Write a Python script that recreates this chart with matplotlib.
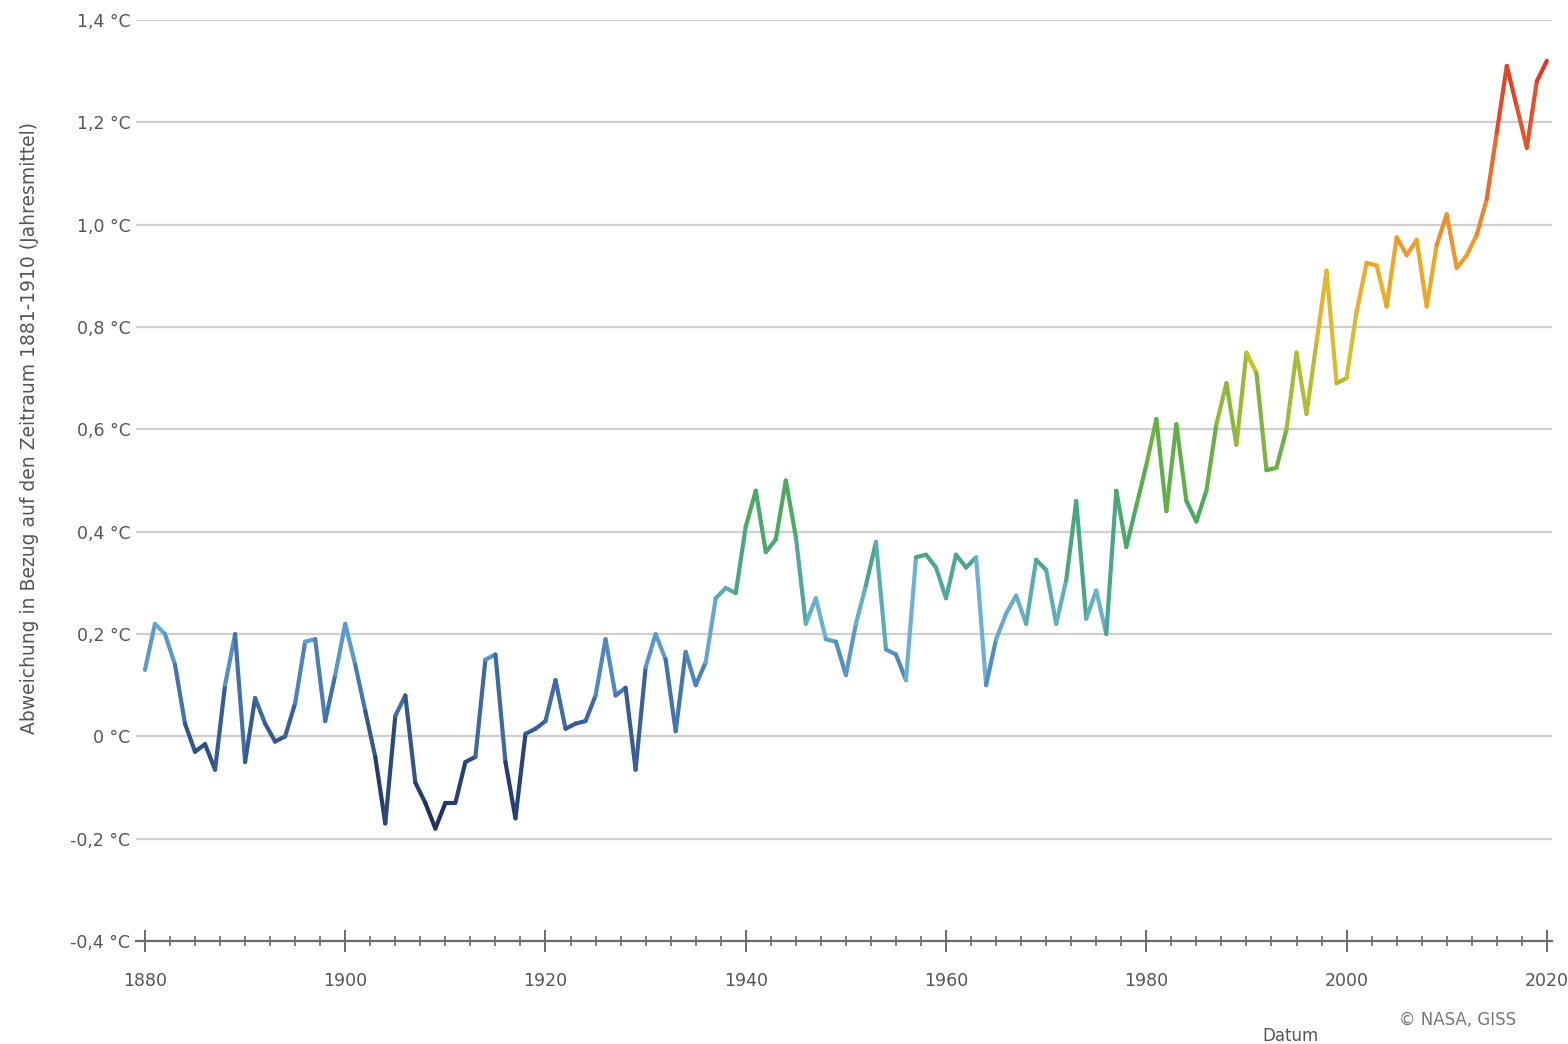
import matplotlib
matplotlib.use("Agg")
import matplotlib.pyplot as plt
from matplotlib.collections import LineCollection
from matplotlib.colors import LinearSegmentedColormap, Normalize
from matplotlib.ticker import MultipleLocator
import numpy as np

# Jahresmittel (NASA GISS, Bezug 1881-1910)
jahre = np.arange(1880, 2021)
abweichung = [
    0.13, 0.22, 0.20, 0.14, 0.025, -0.03, -0.015, -0.065, 0.10, 0.20,      # 1880-1889
    -0.05, 0.075, 0.025, -0.01, 0.00, 0.065, 0.185, 0.19, 0.03, 0.12,      # 1890-1899
    0.22, 0.14, 0.05, -0.04, -0.17, 0.04, 0.08, -0.09, -0.13, -0.18,       # 1900-1909
    -0.13, -0.13, -0.05, -0.04, 0.15, 0.16, -0.05, -0.16, 0.005, 0.015,    # 1910-1919
    0.03, 0.11, 0.015, 0.025, 0.03, 0.08, 0.19, 0.08, 0.095, -0.065,       # 1920-1929
    0.135, 0.20, 0.15, 0.01, 0.165, 0.10, 0.145, 0.27, 0.29, 0.28,         # 1930-1939
    0.41, 0.48, 0.36, 0.385, 0.50, 0.39, 0.22, 0.27, 0.19, 0.185,          # 1940-1949
    0.12, 0.22, 0.295, 0.38, 0.17, 0.16, 0.11, 0.35, 0.355, 0.33,          # 1950-1959
    0.27, 0.355, 0.33, 0.35, 0.10, 0.19, 0.24, 0.275, 0.22, 0.345,         # 1960-1969
    0.325, 0.22, 0.305, 0.46, 0.23, 0.285, 0.20, 0.48, 0.37, 0.45,         # 1970-1979
    0.53, 0.62, 0.44, 0.61, 0.46, 0.42, 0.48, 0.61, 0.69, 0.57,            # 1980-1989
    0.75, 0.71, 0.52, 0.525, 0.60, 0.75, 0.63, 0.77, 0.91, 0.69,           # 1990-1999
    0.70, 0.83, 0.925, 0.92, 0.84, 0.975, 0.94, 0.97, 0.84, 0.96,          # 2000-2009
    1.02, 0.915, 0.94, 0.98, 1.05, 1.18, 1.31, 1.23, 1.15, 1.28,           # 2010-2019
    1.32,                                                                  # 2020
]

y_ticks = [-0.4, -0.2, 0.0, 0.2, 0.4, 0.6, 0.8, 1.0, 1.2, 1.4]
y_labels = ["-0,4 °C", "-0,2 °C", "0 °C", "0,2 °C", "0,4 °C", "0,6 °C",
            "0,8 °C", "1,0 °C", "1,2 °C", "1,4 °C"]
x_ticks = [1880, 1900, 1920, 1940, 1960, 1980, 2000, 2020]

# Farbverlauf nach Temperatur (blau -> grün -> gelb -> rot)
farben = [
    (0.00, "#1b2d5c"),
    (0.11, "#365c93"),
    (0.17, "#4c84ba"),
    (0.23, "#6cb2d6"),
    (0.28, "#4aa592"),
    (0.36, "#4caa58"),
    (0.44, "#78b43c"),
    (0.52, "#d2c22c"),
    (0.60, "#eeac28"),
    (0.69, "#ec7e2c"),
    (0.83, "#dd3b2a"),
    (1.00, "#d0302a"),
]
cmap = LinearSegmentedColormap.from_list("temp", farben)
norm = Normalize(vmin=-0.18, vmax=1.6)

fig = plt.figure(figsize=(15.68, 10.44), dpi=100)
ax = fig.add_axes([0.0867, 0.0985, 0.903, 0.8825])

x = np.array(jahre, dtype=float)
y = np.array(abweichung)
punkte = np.column_stack([x, y]).reshape(-1, 1, 2)
segmente = np.concatenate([punkte[:-1], punkte[1:]], axis=1)
mitte = (y[:-1] + y[1:]) / 2
lc = LineCollection(segmente, cmap=cmap, norm=norm, linewidths=3.0,
                    capstyle="round", joinstyle="round", zorder=3)
lc.set_array(mitte)
ax.add_collection(lc)

ax.set_xlim(1879.1, 2020.5)
ax.set_ylim(-0.4, 1.4)

ax.set_yticks(y_ticks)
ax.set_yticklabels(y_labels)
ax.set_xticks(x_ticks)
ax.xaxis.set_minor_locator(MultipleLocator(2.5))

ax.yaxis.grid(True, color="#cfcfcf", linewidth=1.6)
ax.set_axisbelow(True)

for s in ["top", "right", "left"]:
    ax.spines[s].set_visible(False)
ax.spines["bottom"].set_color("#6a6a6a")
ax.spines["bottom"].set_linewidth(1.6)

ax.tick_params(axis="y", length=0, pad=4, labelsize=12.5, labelcolor="#555555")
ax.tick_params(axis="x", which="major", direction="inout", length=16, width=1.4,
               color="#6a6a6a", pad=14, labelsize=12.5, labelcolor="#555555")
ax.tick_params(axis="x", which="minor", direction="inout", length=7, width=1.2,
               color="#6a6a6a")

fig.text(0.019, 0.59, "Abweichung in Bezug auf den Zeitraum 1881-1910 (Jahresmittel)",
         rotation=90, ha="center", va="center", fontsize=13.5, color="#555555")
fig.text(0.9295, 0.023, "© NASA, GISS", ha="center", va="center",
         fontsize=12, color="#777777")
fig.text(0.805, 0.008, "Datum", ha="left", va="center", fontsize=12, color="#555555")

fig.savefig("out.png", dpi=100)
